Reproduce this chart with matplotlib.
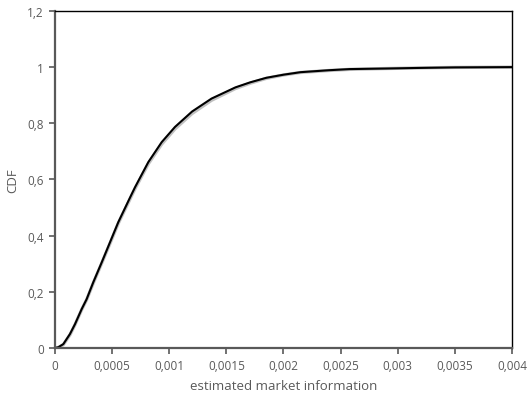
import numpy as np
import matplotlib.pyplot as plt
from matplotlib.ticker import FuncFormatter

plt.rcParams['font.family'] = ['Open Sans', 'DejaVu Sans']

# estimated market information (x) and CDF values
info_x = [0, 0.00003, 0.000073, 0.000131, 0.000175, 0.000234, 0.000277,
          0.000335, 0.000409, 0.000481, 0.000554, 0.000656, 0.0007,
          0.000817, 0.000934, 0.00105, 0.0012, 0.00137, 0.00158, 0.00171,
          0.00185, 0.002, 0.00215, 0.0024, 0.00258, 0.0029, 0.00317,
          0.0035, 0.004]
cdf_black = [0, 0.003, 0.014, 0.05, 0.085, 0.139, 0.174,
             0.234, 0.305, 0.376, 0.448, 0.535, 0.572,
             0.662, 0.733, 0.787, 0.842, 0.888, 0.928, 0.946,
             0.962, 0.973, 0.982, 0.989, 0.993, 0.995, 0.997,
             0.999, 1.0]
cdf_gray = [0, 0.002, 0.012, 0.047, 0.083, 0.137, 0.172,
            0.231, 0.302, 0.372, 0.444, 0.53, 0.567,
            0.656, 0.726, 0.78, 0.835, 0.882, 0.924, 0.943,
            0.96, 0.972, 0.981, 0.988, 0.992, 0.995, 0.997,
            0.999, 1.0]

x_ticks = [0, 0.0005, 0.001, 0.0015, 0.002, 0.0025, 0.003, 0.0035, 0.004]
y_ticks = [0, 0.2, 0.4, 0.6, 0.8, 1.0, 1.2]

txt = '#595959'

fig = plt.figure(figsize=(5.3, 4.02), dpi=100)
ax = fig.add_axes([0.1038, 0.1318, 0.8622, 0.8385])

ax.plot(info_x, cdf_gray, color='#c0c0c0', linewidth=2.4,
        solid_capstyle='round', solid_joinstyle='round')
ax.plot(info_x, cdf_black, color='black', linewidth=1.5,
        solid_capstyle='round', solid_joinstyle='round')

ax.set_xlim(0, 0.004)
ax.set_ylim(0, 1.2)
ax.set_xticks(x_ticks)
ax.set_yticks(y_ticks)

comma = FuncFormatter(lambda v, p: ('%g' % round(v, 6)).replace('.', ','))
ax.xaxis.set_major_formatter(comma)
ax.yaxis.set_major_formatter(comma)

ax.tick_params(direction='out', length=4, width=1.2, color=txt,
               labelcolor=txt, labelsize=8.5, pad=4)

for side in ['left', 'bottom']:
    ax.spines[side].set_color(txt)
    ax.spines[side].set_linewidth(1.6)
for side in ['top', 'right']:
    ax.spines[side].set_color('black')
    ax.spines[side].set_linewidth(1.0)

ax.set_xlabel('estimated market information', color=txt, fontsize=9.5, labelpad=5)
ax.set_ylabel('CDF', color=txt, fontsize=9.5, labelpad=6)

fig.savefig('out.png', dpi=100)
